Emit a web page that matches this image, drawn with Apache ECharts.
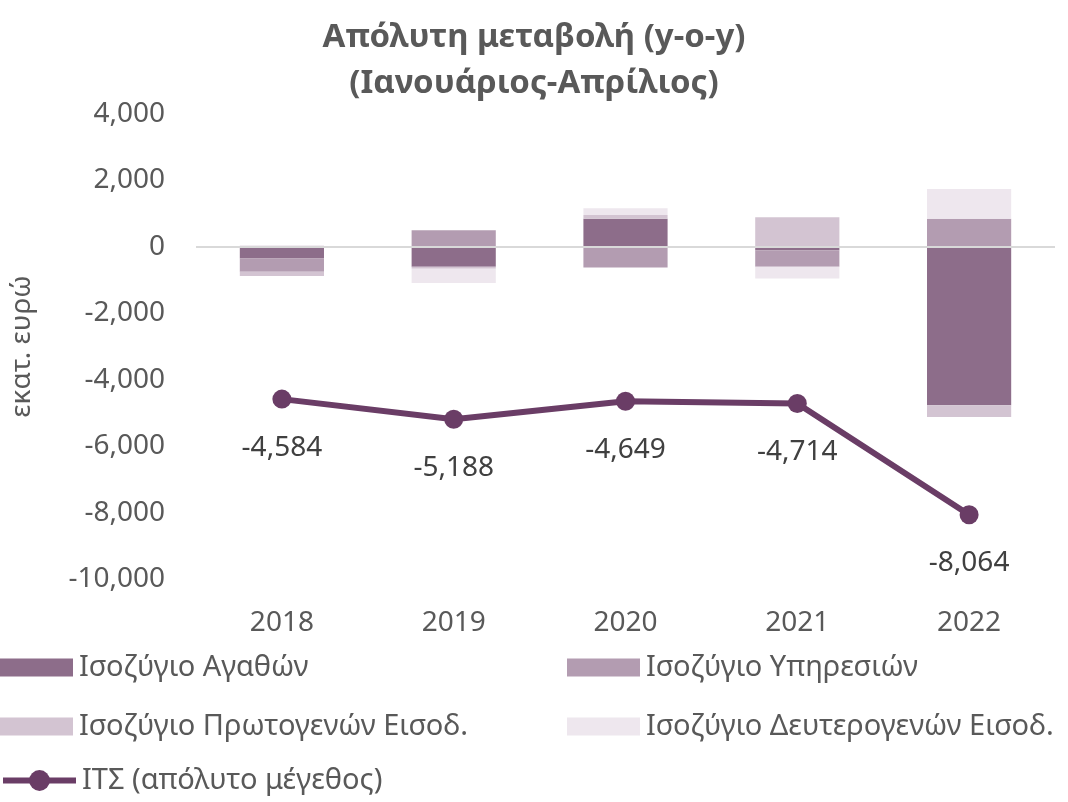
<!DOCTYPE html>
<html lang="el">
<head>
  <meta charset="UTF-8">
  <title>Απόλυτη μεταβολή</title>
  <style>
    * { margin: 0; padding: 0; }
    body { background: #fff; }
    #chart { width: 1068px; height: 802px; }
  </style>
</head>
<body>
  <div id="chart"></div>
  <script src="https://cdn.jsdelivr.net/npm/echarts@6/dist/echarts.min.js"></script>
  <script>
    // δεδομένα (εκατ. ευρώ)
    const years = ['2018', '2019', '2020', '2021', '2022'];
    const goods = [-350, -600, 850, -100, -4770];
    const services = [-400, 500, -620, -500, 850];
    const primary = [-130, -60, 110, 890, -350];
    const secondary = [50, -430, 200, -350, 890];
    const cab = [-4584, -5188, -4649, -4714, -8064];

    const names = ['Ισοζύγιο Αγαθών', 'Ισοζύγιο Υπηρεσιών', 'Ισοζύγιο Πρωτογενών Εισοδ.', 'Ισοζύγιο Δευτερογενών Εισοδ.', 'ΙΤΣ (απόλυτο μέγεθος)'];
    const colors = ['#8d6d8a', '#b39cb1', '#d3c4d2', '#eee7ee', '#6a3d66'];

    const font = 'Noto Sans';
    const fmt = v => v.toLocaleString('en-US');

    const chart = echarts.init(document.getElementById('chart'));

    const barSeries = [goods, services, primary, secondary].map((d, i) => ({
      name: names[i],
      type: 'bar',
      stack: 'total',
      barWidth: '49%',
      data: d,
      itemStyle: { color: colors[i] },
      z: 2
    }));
    // γραμμή στο μηδέν
    barSeries[0].markLine = {
      silent: true,
      symbol: 'none',
      label: { show: false },
      lineStyle: { color: '#d9d9d9', width: 2, type: 'solid' },
      data: [{ yAxis: 0 }]
    };

    const legendPos = [
      { left: 0, top: 653 },
      { left: 567, top: 653 },
      { left: 0, top: 712 },
      { left: 567, top: 712 },
      { left: 0, top: 766 }
    ];

    chart.setOption({
      animation: false,
      textStyle: { fontFamily: font },
      title: {
        text: 'Απόλυτη μεταβολή (y-o-y)\n(Ιανουάριος-Απρίλιος)',
        left: 'center',
        top: 10,
        textStyle: { fontFamily: font, fontSize: 33, fontWeight: 'bold', color: '#595959', lineHeight: 46 }
      },
      legend: names.map((n, i) => ({
        data: [{ name: n, icon: i < 4 ? 'rect' : undefined }],
        left: legendPos[i].left,
        top: legendPos[i].top,
        padding: 0,
        itemWidth: 73,
        itemHeight: i < 4 ? 18 : 26,
        itemGap: 0,
        lineStyle: { width: 6 },
        textStyle: { fontFamily: font, fontSize: 29, color: '#595959', padding: [0, 0, 0, 1] }
      })),
      grid: { left: 196, right: 13, top: 114, height: 465, containLabel: false },
      xAxis: {
        type: 'category',
        data: years,
        axisLine: { show: false, onZero: false },
        axisTick: { show: false },
        axisLabel: { color: '#595959', fontSize: 28, margin: 30, fontFamily: font }
      },
      yAxis: {
        type: 'value',
        min: -10000,
        max: 4000,
        interval: 2000,
        name: 'εκατ. ευρώ',
        nameLocation: 'middle',
        nameGap: 160,
        nameRotate: 90,
        nameTextStyle: { color: '#595959', fontSize: 28, fontFamily: font },
        splitLine: { show: false },
        axisLine: { show: false },
        axisTick: { show: false },
        axisLabel: { color: '#595959', fontSize: 28, margin: 31, formatter: fmt, fontFamily: font }
      },
      series: barSeries.concat([{
        name: names[4],
        type: 'line',
        data: cab,
        symbol: 'circle',
        symbolSize: 19,
        lineStyle: { color: colors[4], width: 6 },
        itemStyle: { color: colors[4] },
        label: {
          show: true,
          position: 'bottom',
          distance: 25,
          color: '#404040',
          fontSize: 28,
          fontFamily: font,
          formatter: p => fmt(p.value)
        },
        z: 5
      }])
    });
  </script>
</body>
</html>
